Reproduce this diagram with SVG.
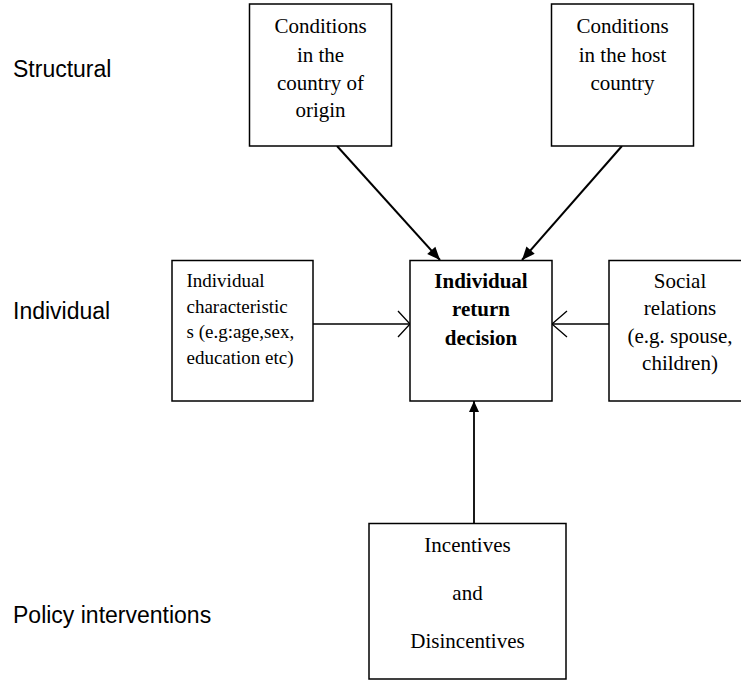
<svg xmlns="http://www.w3.org/2000/svg" width="741" height="680" viewBox="0 0 741 680">
<style>
.box{fill:#fff;stroke:#000;stroke-width:1.5}
.t{font-family:"Liberation Serif","Times New Roman",serif;font-size:21px;fill:#000;text-anchor:middle}
.ts{font-family:"Liberation Serif","Times New Roman",serif;font-size:19px;fill:#000}
.tb{font-weight:bold}
.lab{font-family:"Liberation Sans",Arial,sans-serif;font-size:23px;fill:#000}
.c{stroke:#000;fill:none}
</style>
<defs>
<marker id="fa" markerUnits="userSpaceOnUse" markerWidth="14" markerHeight="12" refX="13" refY="5.5" orient="auto" overflow="visible">
<path d="M0,0 L13,5.5 L0,11 z" fill="#000"/>
</marker>
<marker id="fv" markerUnits="userSpaceOnUse" markerWidth="12" markerHeight="10" refX="11" refY="5" orient="auto" overflow="visible">
<path d="M0,0 L11,5 L0,10 z" fill="#000"/>
</marker>
<marker id="oa" markerUnits="userSpaceOnUse" markerWidth="14" markerHeight="28" refX="12" refY="13" orient="auto" overflow="visible">
<path d="M0,0 L12,13 L0,26" fill="none" stroke="#000" stroke-width="1.3"/>
</marker>
<marker id="ob" markerUnits="userSpaceOnUse" markerWidth="16" markerHeight="28" refX="15" refY="13" orient="auto" overflow="visible">
<path d="M0,0 L15,13 L0,26" fill="none" stroke="#000" stroke-width="1.3"/>
</marker>
</defs>

<g id="labels">
<text class="lab" x="13" y="77">Structural</text>
<text class="lab" x="13" y="319">Individual</text>
<text class="lab" x="13" y="623">Policy interventions</text>
</g>

<g id="connectors">
<line class="c" x1="337" y1="146" x2="440" y2="260" stroke-width="2" marker-end="url(#fa)"/>
<line class="c" x1="622" y1="146" x2="522" y2="260" stroke-width="2" marker-end="url(#fa)"/>
<line class="c" x1="313" y1="324" x2="410" y2="324" stroke-width="1.5" marker-end="url(#oa)"/>
<line class="c" x1="609" y1="324" x2="552" y2="324" stroke-width="1.5" marker-end="url(#ob)"/>
<line class="c" x1="474" y1="523" x2="474" y2="401" stroke-width="1.8" marker-end="url(#fv)"/>
</g>

<g id="origin">
<rect class="box" x="249.5" y="4" width="142" height="142"/>
<text class="t" x="320.5" y="33">Conditions</text>
<text class="t" x="320.5" y="62">in the</text>
<text class="t" x="320.5" y="90">country of</text>
<text class="t" x="320.5" y="117">origin</text>
</g>

<g id="host">
<rect class="box" x="551.5" y="4" width="142" height="142"/>
<text class="t" x="622.5" y="33">Conditions</text>
<text class="t" x="622.5" y="62">in the host</text>
<text class="t" x="622.5" y="90">country</text>
</g>

<g id="individual-characteristics">
<rect class="box" x="172" y="260.5" width="141" height="140.5"/>
<text class="ts" x="186.5" y="287">Individual</text>
<text class="ts" x="186.5" y="313">characteristic</text>
<text class="ts" x="186.5" y="338">s (e.g:age,sex,</text>
<text class="ts" x="186.5" y="364">education etc)</text>
</g>

<g id="decision">
<rect class="box" x="410" y="260.5" width="142" height="140.5"/>
<text class="t tb" x="481" y="288">Individual</text>
<text class="t tb" x="481" y="316">return</text>
<text class="t tb" x="481" y="345">decision</text>
</g>

<g id="social">
<rect class="box" x="609" y="260.5" width="141" height="140.5"/>
<text class="t" x="680" y="288">Social</text>
<text class="t" x="680" y="315">relations</text>
<text class="t" x="680" y="343">(e.g. spouse,</text>
<text class="t" x="680" y="370">children)</text>
</g>

<g id="incentives">
<rect class="box" x="369" y="523.5" width="197" height="155.5"/>
<text class="t" x="467.5" y="552">Incentives</text>
<text class="t" x="467.5" y="600">and</text>
<text class="t" x="467.5" y="648">Disincentives</text>
</g>
</svg>
